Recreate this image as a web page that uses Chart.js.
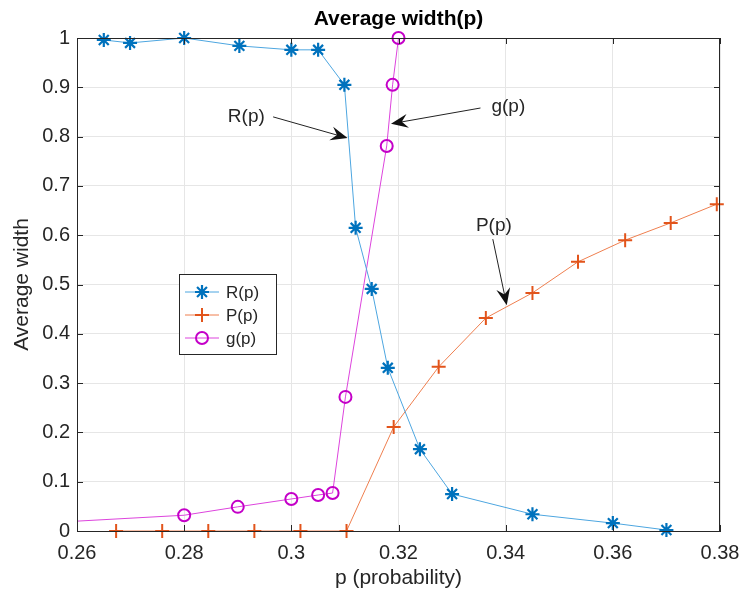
<!DOCTYPE html>
<html>
<head>
<meta charset="utf-8">
<script src="https://cdn.jsdelivr.net/npm/chart.js@4"></script>
<style>
  body { margin: 0; background: #fff; }
  #wrap { width: 740px; height: 597px; }
</style>
</head>
<body>
<div id="wrap"><canvas id="chart"></canvas></div>
<script>
// R(p) series
const rX = [0.265, 0.2699, 0.28, 0.2903, 0.3, 0.305, 0.3099, 0.312, 0.315, 0.318, 0.324, 0.33, 0.345, 0.36, 0.37]
const rY = [0.996, 0.99, 1.0, 0.984, 0.976, 0.976, 0.905, 0.615, 0.491, 0.331, 0.166, 0.075, 0.034, 0.016, 0.002]

// P(p) series
const pX = [0.2673, 0.2759, 0.2845, 0.2931, 0.3017, 0.3103, 0.3191, 0.3275, 0.3363, 0.345, 0.3535, 0.3623, 0.3708, 0.3794]
const pY = [0, 0, 0, 0, 0, 0, 0.211, 0.333, 0.432, 0.483, 0.546, 0.59, 0.625, 0.663]

// g(p) series (first point sits just left of the visible range)
const gX = [0.25, 0.28, 0.29, 0.3, 0.305, 0.3077, 0.3101, 0.3178, 0.3189, 0.32]
const gY = [0.014, 0.032, 0.049, 0.065, 0.073, 0.077, 0.272, 0.781, 0.905, 1.0]

const xTicks = [0.26, 0.28, 0.3, 0.32, 0.34, 0.36, 0.38]
const yTicks = [0, 0.1, 0.2, 0.3, 0.4, 0.5, 0.6, 0.7, 0.8, 0.9, 1]

// text arrows: label, text x/y, tail x/y, head x/y (data units)
const notes = [
    { label: 'R(p)', tx: 0.2916, ty: 0.84, ax: 0.2966, ay: 0.84, bx: 0.3105, by: 0.797 },
    { label: 'g(p)', tx: 0.3405, ty: 0.86, ax: 0.3353, ay: 0.858, bx: 0.3186, by: 0.826 },
    { label: 'P(p)', tx: 0.3378, ty: 0.62, ax: 0.3376, ay: 0.592, bx: 0.3402, by: 0.458 }
]

const TITLE = 'Average width(p)'
const FONT = "'Liberation Sans', Arial, Helvetica, sans-serif"
const AXIS = '#262626'

const toPts = (xs, ys) => xs.map((x, i) => ({ x: x, y: ys[i] }))

// title, box, arrows and legend drawn on top of the plot
const extras = {
    id: 'extras',
    afterDraw(chart) {
        const ctx = chart.ctx
        const a = chart.chartArea
        const xs = chart.scales.x
        const ys = chart.scales.y

        ctx.save()
        // title centred over the axes
        ctx.font = 'bold 21px ' + FONT
        ctx.fillStyle = '#000'
        ctx.textAlign = 'center'
        ctx.textBaseline = 'middle'
        ctx.fillText(TITLE, (a.left + a.right) / 2, 19)

        // axes box + inward ticks
        ctx.strokeStyle = AXIS
        ctx.lineWidth = 1
        ctx.strokeRect(a.left + 0.5, a.top + 0.5, a.right - a.left - 1, a.bottom - a.top)
        ctx.beginPath()
        xTicks.forEach(v => {
            const px = Math.round(xs.getPixelForValue(v)) + 0.5
            ctx.moveTo(px, a.bottom); ctx.lineTo(px, a.bottom - 6)
            ctx.moveTo(px, a.top); ctx.lineTo(px, a.top + 6)
        })
        yTicks.forEach(v => {
            const py = Math.round(ys.getPixelForValue(v)) + 0.5
            ctx.moveTo(a.left, py); ctx.lineTo(a.left + 6, py)
            ctx.moveTo(a.right, py); ctx.lineTo(a.right - 6, py)
        })
        ctx.stroke()

        // annotations
        notes.forEach(n => {
            ctx.font = '19px ' + FONT
            ctx.fillStyle = AXIS
            ctx.textAlign = 'center'
            ctx.fillText(n.label, xs.getPixelForValue(n.tx), ys.getPixelForValue(n.ty))
            const x1 = xs.getPixelForValue(n.ax), y1 = ys.getPixelForValue(n.ay)
            const x2 = xs.getPixelForValue(n.bx), y2 = ys.getPixelForValue(n.by)
            const ang = Math.atan2(y2 - y1, x2 - x1)
            ctx.strokeStyle = '#222'
            ctx.lineWidth = 1
            ctx.beginPath()
            ctx.moveTo(x1, y1)
            ctx.lineTo(x2 - 8 * Math.cos(ang), y2 - 8 * Math.sin(ang))
            ctx.stroke()
            // matlab style arrow head
            const L = 17, W = 7
            const bx = x2 - L * Math.cos(ang), by = y2 - L * Math.sin(ang)
            const cx = x2 - 11 * Math.cos(ang), cy = y2 - 11 * Math.sin(ang)
            ctx.fillStyle = '#111'
            ctx.beginPath()
            ctx.moveTo(x2, y2)
            ctx.lineTo(bx - W * Math.sin(ang), by + W * Math.cos(ang))
            ctx.lineTo(cx, cy)
            ctx.lineTo(bx + W * Math.sin(ang), by - W * Math.cos(ang))
            ctx.closePath()
            ctx.fill()
        })

        // legend
        const lx = 179, ly = 274, lw = 97, lh = 80
        ctx.fillStyle = '#fff'
        ctx.fillRect(lx, ly, lw, lh)
        ctx.strokeStyle = '#262626'
        ctx.lineWidth = 1
        ctx.strokeRect(lx + 0.5, ly + 0.5, lw, lh)
        chart.data.datasets.forEach((ds, i) => {
            const y = ly + 18 + i * 23
            ctx.strokeStyle = ds.borderColor
            ctx.lineWidth = 1
            ctx.beginPath()
            ctx.moveTo(lx + 6, y); ctx.lineTo(lx + 40, y)
            ctx.stroke()
            ctx.strokeStyle = ds.pointBorderColor
            ctx.fillStyle = ds.pointBackgroundColor
            ctx.lineWidth = ds.pointBorderWidth
            Chart.helpers.drawPoint(ctx, { pointStyle: ds.pointStyle, radius: ds.pointRadius, rotation: 0, borderWidth: ds.pointBorderWidth }, lx + 23, y)
            ctx.fillStyle = AXIS
            ctx.textAlign = 'left'
            ctx.font = '17px ' + FONT
            ctx.fillText(ds.label, lx + 47, y + 1)
        })
        ctx.restore()
    }
}

new Chart(document.getElementById('chart'), {
    type: 'line',
    data: {
        datasets: [
            {
                label: 'R(p)',
                data: toPts(rX, rY),
                borderColor: '#4da6e0',
                borderWidth: 1,
                pointStyle: 'star',
                pointRadius: 7,
                pointBorderColor: '#0072BD',
                pointBackgroundColor: '#0072BD',
                pointBorderWidth: 2.2,
                clip: false
            },
            {
                label: 'P(p)',
                data: toPts(pX, pY),
                borderColor: '#ef7f4f',
                borderWidth: 1,
                pointStyle: 'cross',
                pointRadius: 7,
                pointBorderColor: '#E2541B',
                pointBackgroundColor: '#E2541B',
                pointBorderWidth: 2,
                clip: false
            },
            {
                label: 'g(p)',
                data: toPts(gX, gY),
                borderColor: '#dd44dd',
                borderWidth: 1,
                pointStyle: 'circle',
                pointRadius: 6,
                pointBorderColor: '#C400C8',
                pointBackgroundColor: 'rgba(0,0,0,0)',
                pointBorderWidth: 2,
                clip: { left: 0, top: false, right: false, bottom: false }
            }
        ]
    },
    options: {
        responsive: true,
        maintainAspectRatio: false,
        animation: false,
        layout: { padding: { left: 0, right: 20, top: 38, bottom: 0 } },
        plugins: {
            legend: { display: false },
            tooltip: { enabled: false },
            title: { display: false }
        },
        scales: {
            x: {
                type: 'linear',
                min: 0.26,
                max: 0.38,
                afterBuildTicks: (s) => { s.ticks = xTicks.map(v => ({ value: v })) },
                afterFit: (s) => { s.height = 66; s.paddingLeft = 0; s.paddingRight = 0 },
                ticks: {
                    color: AXIS,
                    font: { family: FONT, size: 20 },
                    padding: 10,
                    maxRotation: 0,
                    callback: (v) => String(+v.toFixed(2))
                },
                grid: { color: '#e6e6e6', drawTicks: false },
                border: { color: AXIS },
                title: {
                    display: true,
                    text: 'p (probability)',
                    color: AXIS,
                    font: { family: FONT, size: 21 },
                    padding: { top: 4, bottom: 6 }
                }
            },
            y: {
                type: 'linear',
                min: 0,
                max: 1,
                afterBuildTicks: (s) => { s.ticks = yTicks.map(v => ({ value: v })) },
                afterFit: (s) => { s.width = 77; s.paddingTop = 0; s.paddingBottom = 0 },
                ticks: {
                    color: AXIS,
                    font: { family: FONT, size: 20 },
                    padding: 7,
                    callback: (v) => String(+v.toFixed(1))
                },
                grid: { color: '#e6e6e6', drawTicks: false },
                border: { color: AXIS },
                title: {
                    display: true,
                    text: 'Average width',
                    color: AXIS,
                    font: { family: FONT, size: 21 },
                    padding: { top: 10, bottom: 4 }
                }
            }
        }
    },
    plugins: [extras]
});
</script>
</body>
</html>
